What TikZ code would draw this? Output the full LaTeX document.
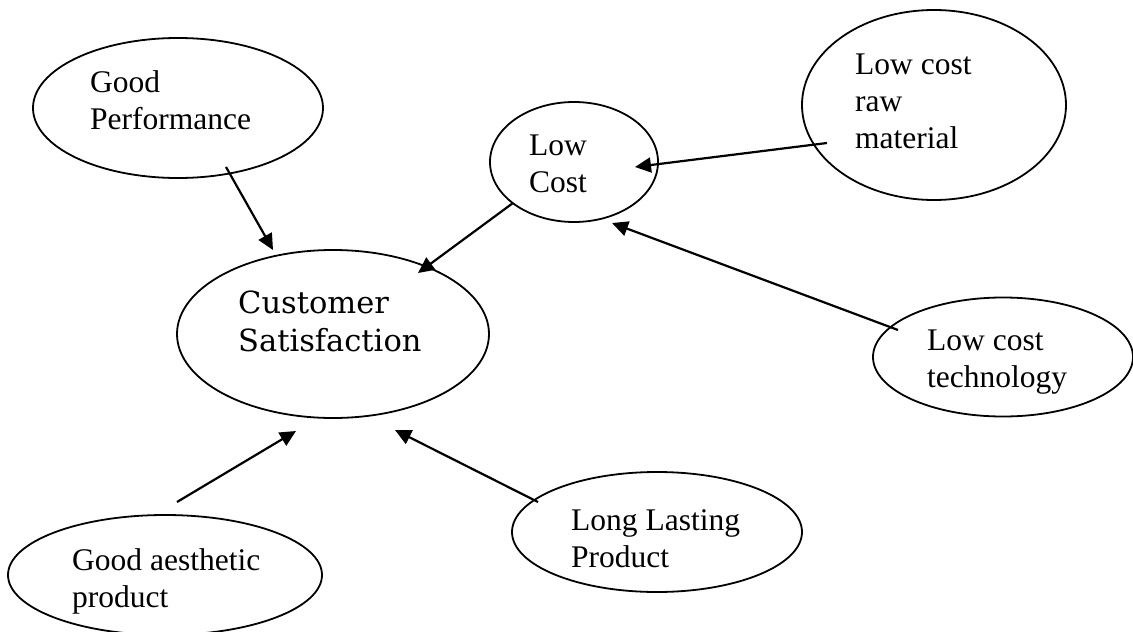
\documentclass[tikz,border=0pt]{standalone}
\usepackage{fontspec}
\setmainfont{Liberation Serif}
\newfontfamily\csfont{DejaVu Serif}
\usetikzlibrary{arrows.meta,calc,shapes.geometric}

\tikzset{
  bubble/.style={ellipse, draw, line width=1.8pt, inner sep=0pt, outer sep=0pt},
  % multi-line labels are placed by the baseline of their last line
  lbl/.style={anchor=base west, align=left, inner sep=0pt,
              font=\fontsize{31.5}{37}\selectfont},
  cslbl/.style={anchor=base west, align=left, inner sep=0pt,
              font=\csfont\fontsize{30.5}{38}\selectfont},
  arr/.style={line width=2.2pt, -{Triangle[length=16pt,width=15pt]}},
}

\begin{document}
\begin{tikzpicture}[x=1pt, y=-1pt]
  \useasboundingbox (0,0) rectangle (1133,632);
  \clip (0,0) rectangle (1133,632);

  % factor bubbles
  \node[bubble, minimum width=290pt, minimum height=140pt] (gp) at (178,108) {};
  \node[bubble, minimum width=312pt, minimum height=168pt] (cs) at (333,334) {};
  \node[bubble, minimum width=168pt, minimum height=120pt] (lc) at (574,162) {};
  \node[bubble, minimum width=264pt, minimum height=190pt] (rm) at (934,105) {};
  \node[bubble, minimum width=260pt, minimum height=119pt] (lt) at (1003,357) {};
  \node[bubble, minimum width=314pt, minimum height=120pt] (ga) at (165,575) {};
  \node[bubble, minimum width=290pt, minimum height=120pt] (ll) at (657,532) {};

  % labels
  \node[lbl]   (gpt) at (90,129)  {Good\\Performance};
  \node[cslbl] (cst) at (238,351) {Customer\\Satisfaction};
  \node[lbl]   (lct) at (529,192) {Low\\Cost};
  \node[lbl]   (rmt) at (855,148) {Low cost\\raw\\material};
  \node[lbl]   (ltt) at (927,387) {Low cost\\technology};
  \node[lbl]   (gat) at (72,607)  {Good aesthetic\\product};
  \node[lbl]   (llt) at (571,567) {Long Lasting\\Product};

  % influences
  \draw[arr] ($(gp)+(48,59)$)   -- ($(cs)+(-60,-84)$);
  \draw[arr] ($(lc)+(-61,41)$)  -- ($(cs)+(85,-61)$);
  \draw[arr] ($(rm)+(-107,38)$) -- ($(lc)+(61,5)$);
  \draw[arr] ($(lt)+(-105,-27)$) -- ($(lc)+(38,61)$);
  \draw[arr] ($(ga)+(12,-73)$)  -- ($(cs)+(-37,97)$);
  \draw[arr] ($(ll)+(-119,-30)$) -- ($(cs)+(62,96)$);
\end{tikzpicture}
\end{document}
